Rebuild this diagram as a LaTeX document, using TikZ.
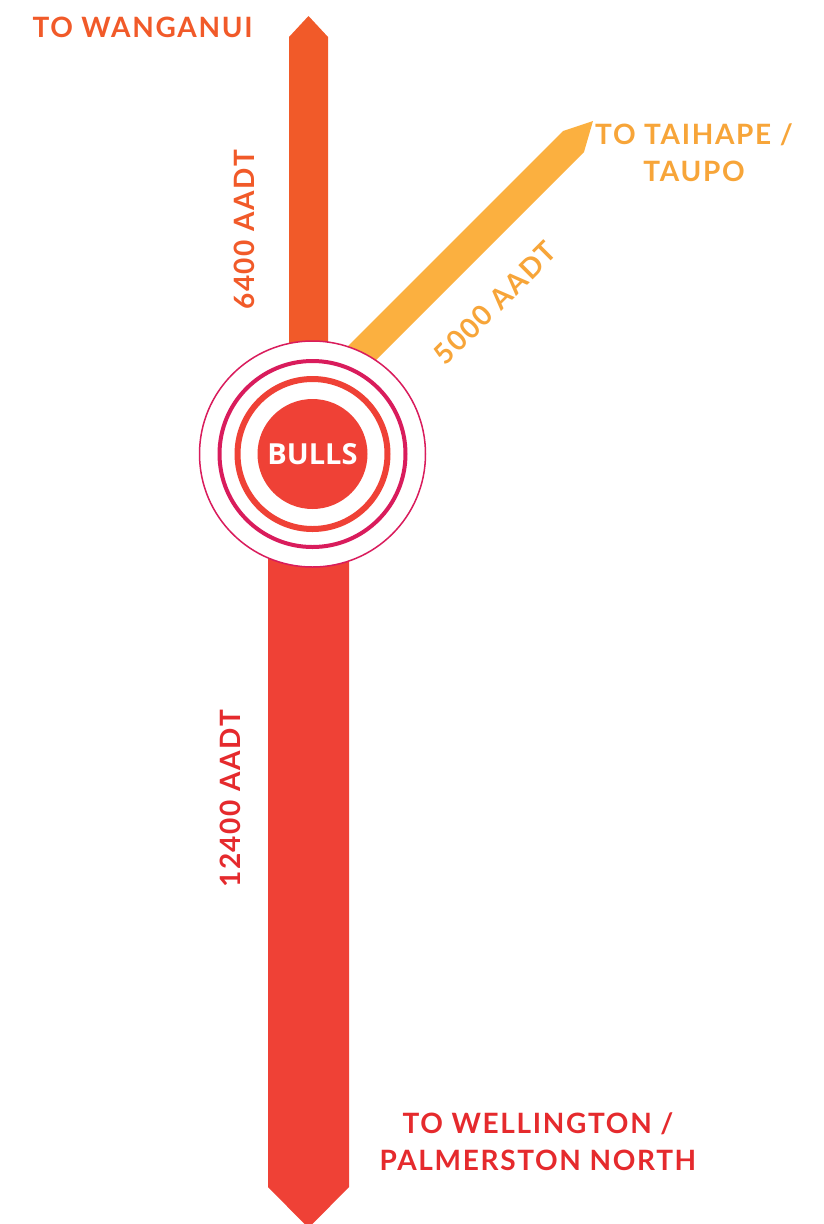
\documentclass[tikz,border=0pt]{standalone}
\usepackage{fontspec}
\setmainfont{Lato}
\newfontfamily\roadfont[LetterSpace=6]{Lato}
\newfontfamily\bullsfont{Open Sans}
\definecolor{wanganui}{HTML}{F15A29}
\definecolor{wellington}{HTML}{EF4136}
\definecolor{taihape}{HTML}{FBB040}
\definecolor{ringmag}{HTML}{D91C5C}
\definecolor{wellingtontext}{HTML}{E52A2D}
\definecolor{taihapetext}{HTML}{F7A539}
\begin{document}
\begin{tikzpicture}[x=1pt, y=-1pt,
  roadlabel/.style={font=\roadfont\bfseries\fontsize{28}{37}\selectfont, align=center, inner sep=0pt}]
  \useasboundingbox (0,0) rectangle (823,1224);
  \fill[wanganui] (289,454) -- (289,37) -- (308.5,16) -- (328,37) -- (328,454) -- cycle;
  \fill[wellington] (268,454) -- (268,1187) -- (308.5,1228) -- (349,1187) -- (349,454) -- cycle;
  \fill[taihape] (323,371) -- (563,131) -- (593,121) -- (584,152) -- (344,392) -- cycle;
  \coordinate (bulls) at (312.5,454);
  \draw[ringmag, line width=1.5pt, fill=white] (bulls) circle[radius=113];
  \draw[ringmag, line width=4pt] (bulls) circle[radius=93];
  \draw[wellington, line width=6pt] (bulls) circle[radius=75];
  \fill[wellington] (bulls) circle[radius=55];
  \node[text=white, inner sep=0pt, font=\bullsfont\bfseries\fontsize{29}{30}\selectfont] (bullsname) at (bulls) {BULLS};
  \node[roadlabel, text=wanganui] (wanganuilabel) at (142.5,27.5) {TO WANGANUI};
  \node[roadlabel, text=taihapetext] (taihapelabel) at (694,152.5) {TO TAIHAPE /\\TAUPO};
  \node[roadlabel, text=wellingtontext] (wellingtonlabel) at (538,1142) {TO WELLINGTON /\\PALMERSTON NORTH};
  \node[roadlabel, text=wanganui, rotate=90] (northflow) at (244,230) {6400 AADT};
  \node[roadlabel, text=wellingtontext, rotate=90] (southflow) at (230,799) {12400 AADT};
  \node[roadlabel, text=taihapetext, rotate=45] (eastflow) at (495,303) {5000 AADT};
\end{tikzpicture}
\end{document}
